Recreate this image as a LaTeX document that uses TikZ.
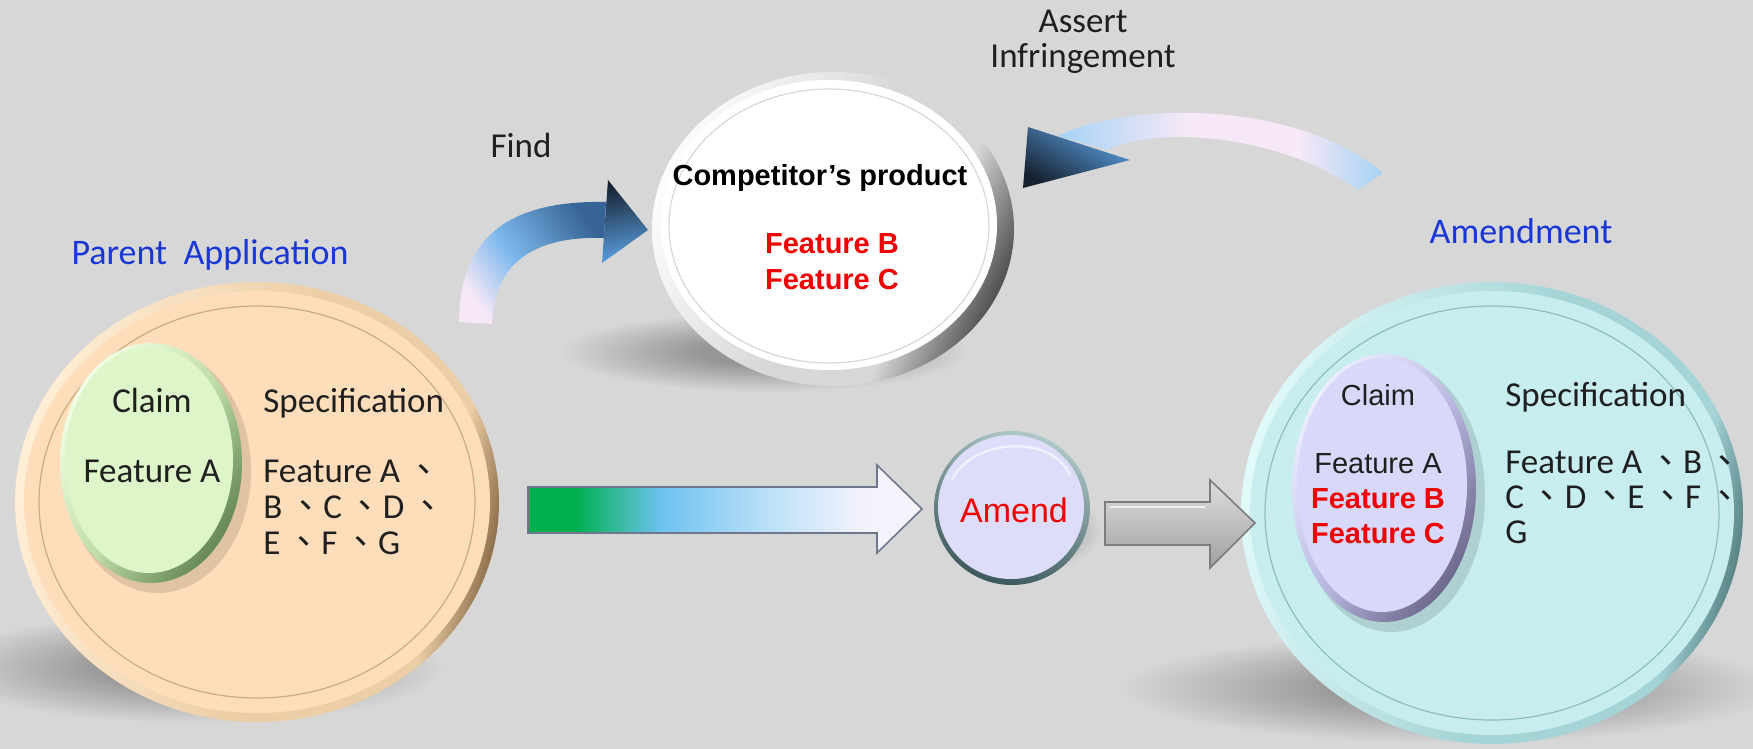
\documentclass[tikz,border=0pt]{standalone}
\usepackage{fontspec}
\setmainfont{Carlito}
\newfontfamily\arial{Liberation Sans}
\newfontfamily\cjk{Noto Sans CJK TC}
\definecolor{bg}{RGB}{215,215,215}
\definecolor{shd}{RGB}{150,150,150}
\definecolor{peach}{RGB}{254,222,186}
\definecolor{peachL}{RGB}{255,238,214}
\definecolor{peachM}{RGB}{236,206,166}
\definecolor{peachD}{RGB}{115,85,50}
\definecolor{peachRing}{RGB}{205,170,130}
\definecolor{greenF}{RGB}{221,245,200}
\definecolor{greenL}{RGB}{242,255,230}
\definecolor{greenM}{RGB}{190,220,165}
\definecolor{greenD}{RGB}{95,130,80}
\definecolor{cyanF}{RGB}{199,237,239}
\definecolor{cyanL}{RGB}{224,249,249}
\definecolor{cyanM}{RGB}{165,212,214}
\definecolor{cyanD}{RGB}{65,108,110}
\definecolor{cyanRing}{RGB}{140,190,192}
\definecolor{purF}{RGB}{216,216,250}
\definecolor{purL}{RGB}{238,238,255}
\definecolor{purM}{RGB}{185,183,225}
\definecolor{purD}{RGB}{105,100,135}
\definecolor{whL}{RGB}{252,252,252}
\definecolor{whM}{RGB}{215,215,215}
\definecolor{whD}{RGB}{85,85,85}
\definecolor{lavF}{RGB}{221,221,250}
\definecolor{tealL}{RGB}{175,200,200}
\definecolor{tealD}{RGB}{60,88,90}
\definecolor{ttlblue}{RGB}{25,55,215}
\definecolor{fred}{RGB}{240,0,0}
\definecolor{g1}{RGB}{0,176,80}
\definecolor{gaout}{RGB}{110,120,140}
\definecolor{lb1}{RGB}{110,195,240}
\definecolor{lb2}{RGB}{190,225,248}
\definecolor{wl}{RGB}{244,242,251}
\definecolor{pw}{RGB}{246,232,246}
\definecolor{sky}{RGB}{125,185,238}
\definecolor{steel}{RGB}{55,100,150}
\definecolor{navy}{RGB}{22,33,48}
\definecolor{hblue}{RGB}{90,160,225}
\definecolor{palebl}{RGB}{165,210,245}
\definecolor{grT}{RGB}{222,222,222}
\definecolor{grM}{RGB}{190,190,190}
\definecolor{grB}{RGB}{160,160,160}
\definecolor{grO}{RGB}{125,125,125}
\pgfdeclareradialshading{softshd}{\pgfpoint{0bp}{0bp}}{color(0bp)=(shd); color(8bp)=(shd); color(25bp)=(bg); color(50bp)=(bg)}
\pgfdeclarehorizontalshading{rimpeach}{100bp}{color(0bp)=(peachL); color(25bp)=(peachL); color(52bp)=(peachM); color(70bp)=(peachM); color(77bp)=(peachD); color(100bp)=(peachD)}
\pgfdeclarehorizontalshading{rimcyan}{100bp}{color(0bp)=(cyanL); color(25bp)=(cyanL); color(52bp)=(cyanM); color(70bp)=(cyanM); color(77bp)=(cyanD); color(100bp)=(cyanD)}
\pgfdeclarehorizontalshading{rimwhite}{100bp}{color(0bp)=(whL); color(25bp)=(whL); color(50bp)=(whM); color(64bp)=(whM); color(75bp)=(whD); color(100bp)=(whD)}
\pgfdeclarehorizontalshading{rimgreen}{100bp}{color(0bp)=(greenL); color(25bp)=(greenL); color(52bp)=(greenM); color(76bp)=(greenD); color(100bp)=(greenD)}
\pgfdeclarehorizontalshading{rimpur}{100bp}{color(0bp)=(purL); color(25bp)=(purL); color(52bp)=(purM); color(76bp)=(purD); color(100bp)=(purD)}
\pgfdeclarehorizontalshading{grnarrow}{100bp}{color(0bp)=(g1); color(25bp)=(g1); color(31bp)=(g1); color(42bp)=(lb1); color(56bp)=(lb2); color(68bp)=(wl); color(100bp)=(wl)}
\pgfdeclarehorizontalshading{findsh}{100bp}{color(0bp)=(pw); color(25bp)=(pw); color(45bp)=(sky); color(75bp)=(steel); color(100bp)=(steel)}
\pgfdeclarehorizontalshading{assertsh}{100bp}{color(0bp)=(palebl); color(25bp)=(palebl); color(45bp)=(pw); color(62bp)=(pw); color(75bp)=(palebl); color(100bp)=(palebl)}
\tikzset{
  calib/.style={font=\fontsize{17.5}{18}\selectfont, text=black!88, inner sep=0pt, anchor=base},
  calibL/.style={calib, anchor=base west},
  titletext/.style={font=\fontsize{18}{18}\selectfont, text=ttlblue, inner sep=0pt, anchor=base},
  arialR/.style={font=\arial\fontsize{14.5}{15}\selectfont, text=black!88, inner sep=0pt, anchor=base},
  arialB/.style={font=\arial\bfseries\fontsize{14.5}{15}\selectfont, text=fred, inner sep=0pt, anchor=base},
  softshadow/.style={shading=softshd},
  ringline/.style={line width=0.6pt},
}
\newcommand\cm{\,{\cjk 、}}
\begin{document}
\begin{tikzpicture}[x=0.5pt,y=-0.5pt]
\useasboundingbox (0,0) rectangle (1753,749);
\fill[bg] (0,0) rectangle (1753,749);
% centres
\coordinate (parent) at (257,502);
\coordinate (claimA) at (151,463);
\coordinate (amendc) at (1492,513);
\coordinate (claimB) at (1384,488);
\coordinate (comp) at (833,229);
\coordinate (amend) at (1012,508);
% shadows
\shade[softshadow] (190,668) ellipse [x radius=255, y radius=55];
\shade[softshadow] (1450,688) ellipse [x radius=330, y radius=55];
\shade[softshadow] (765,352) ellipse [x radius=205, y radius=40];
\shade[softshadow] (1020,530) ellipse [x radius=82, y radius=45];
% parent disc
\shade[shading=rimpeach, shading angle=-12] (parent) ellipse [x radius=242, y radius=220];
\fill[peach] (parent) ellipse [x radius=233, y radius=211];
\draw[peachRing, ringline] (parent) ellipse [x radius=218, y radius=196];
\fill[black, opacity=0.12] (158,471) ellipse [x radius=93, y radius=122];
\shade[shading=rimgreen, shading angle=-35] (claimA) ellipse [x radius=91, y radius=120];
\fill[greenF] (149,460) ellipse [x radius=84, y radius=113];
% amendment disc
\shade[shading=rimcyan, shading angle=-12] (amendc) ellipse [x radius=251, y radius=231];
\fill[cyanF] (amendc) ellipse [x radius=242, y radius=222];
\draw[cyanRing, ringline] (amendc) ellipse [x radius=227, y radius=207];
\fill[black, opacity=0.12] (1391,496) ellipse [x radius=94, y radius=136];
\shade[shading=rimpur, shading angle=-35] (claimB) ellipse [x radius=92, y radius=134];
\fill[purF] (1382,485) ellipse [x radius=85, y radius=127];
% competitor disc
\shade[shading=rimwhite, shading angle=-25] (comp) ellipse [x radius=181, y radius=157];
\fill[white] (829,225) ellipse [x radius=168, y radius=145];
\draw[whM, ringline] (829,226) ellipse [x radius=160, y radius=137];
% amend disc
\shade[top color=tealL, bottom color=tealD, shading angle=-20] (amend) ellipse [x radius=78, y radius=77];
\fill[lavF] (1011,507) ellipse [x radius=73, y radius=72];
\draw[white, line width=1.2pt, opacity=0.6] (952,480) .. controls (970,440) and (1050,432) .. (1070,475);
% green arrow
\coordinate (ga1) at (528,487);
\coordinate (gtip) at (922,509);
\shadedraw[shading=grnarrow, draw=gaout, line width=0.8pt, line join=miter]
  (ga1) -- (877,487) -- (877,465) -- (gtip) -- (877,553) -- (877,533) -- (528,533) -- cycle;
% grey arrow
\coordinate (gr1) at (1105,502);
\coordinate (grtip) at (1255,523);
\shadedraw[top color=grT, middle color=grM, bottom color=grB, draw=grO, line width=0.8pt]
  (gr1) -- (1210,502) -- (1210,480) -- (grtip) -- (1210,568) -- (1210,545) -- (1105,545) -- cycle;
\draw[white, opacity=0.7, line width=0.8pt] (1110,507) -- (1205,507);
% find arrow
\shade[shading=findsh, shading angle=35]
  (459,322) .. controls (460,240) and (505,200) .. (606,202) -- (604,238)
  .. controls (545,236) and (494,255) .. (492,324) -- cycle;
\shade[top color=navy, bottom color=hblue, shading angle=10]
  (608,180) -- (648,230) -- (602,263) -- cycle;
% assert arrow
\shade[shading=assertsh]
  (1058,136) .. controls (1120,104) and (1290,96) .. (1383,173) -- (1358,190)
  .. controls (1280,135) and (1160,125) .. (1107,150) -- cycle;
\shade[top color=hblue, bottom color=navy, shading angle=-30]
  (1028,127) -- (1130,160) -- (1023,188) -- cycle;
% texts
\node[calib] (assert1) at (1083,33) {Assert};
\node[calib] (assert2) at (1083,68) {Infringement};
\node[calib] (find) at (521,158) {Find};
\node[titletext] (ptitle) at (210,264) {Parent\ \ Application};
\node[titletext] (atitle) at (1521,243) {Amendment};
\node[arialB, text=black] (cprod) at (820,185) {Competitor’s product};
\node[arialB] (cfb) at (832,254) {Feature B};
\node[arialB] (cfc) at (832,290) {Feature C};
\node[font=\arial\fontsize{17}{17}\selectfont, text=fred, anchor=base, inner sep=0pt] (amendt) at (1014,522) {Amend};
\node[calib] (lclaim) at (152,412) {Claim};
\node[calib] (lfa) at (152,482) {Feature A};
\node[calibL] (lspec) at (263,412) {Specification};
\node[calibL] (ls1) at (263,482) {Feature A\cm};
\node[calibL] (ls2) at (263,518) {B\cm C\cm D\cm};
\node[calibL] (ls3) at (263,554) {E\cm F\cm G};
\node[arialR] (rclaim) at (1378,405) {Claim};
\node[arialR] (rfa) at (1378,473) {Feature A};
\node[arialB] (rfb) at (1378,508) {Feature B};
\node[arialB] (rfc) at (1378,543) {Feature C};
\node[calibL] (rspec) at (1505,406) {Specification};
\node[calibL] (rs1) at (1505,473) {Feature A\cm B\cm};
\node[calibL] (rs2) at (1505,508) {C\cm D\cm E\cm F\cm};
\node[calibL] (rs3) at (1505,543) {G};
\end{tikzpicture}
\end{document}
